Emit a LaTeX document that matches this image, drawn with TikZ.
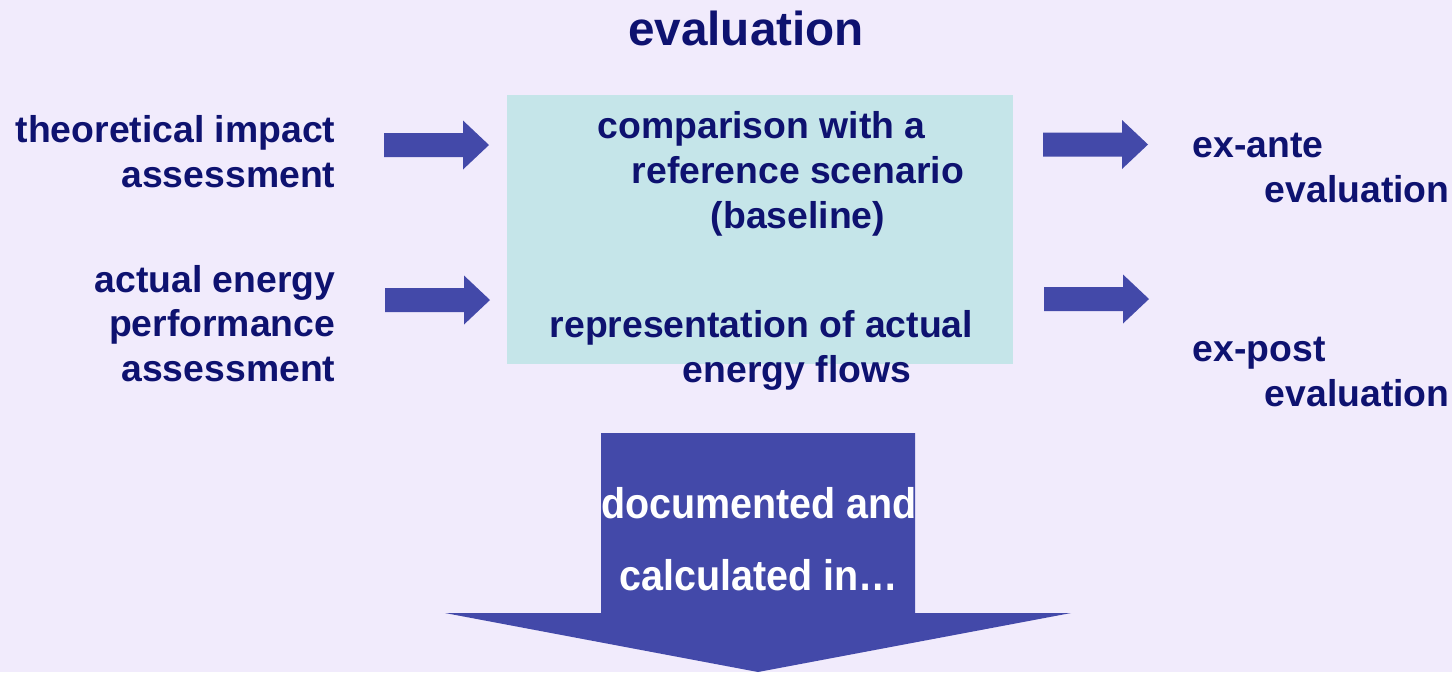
\documentclass[tikz,border=0pt]{standalone}
\usepackage{fontspec}
\setmainfont{Liberation Sans}
\newfontfamily\narrowsans[FakeStretch=0.92]{Liberation Sans}
\usepackage{tikz}

\definecolor{slidebg}{RGB}{241,235,252}
\definecolor{boxcyan}{RGB}{197,229,233}
\definecolor{arrowblue}{RGB}{67,73,169}
\definecolor{navytext}{RGB}{14,18,112}

\tikzset{
  flowarrow/.pic={\fill[arrowblue] (0,-12) -- (79,-12) -- (79,-24.5) -- (105,0) -- (79,24.5) -- (79,12) -- (0,12) -- cycle;}
}

\begin{document}
\begin{tikzpicture}[x=0.01cm,y=-0.01cm]
  \tikzstyle{bluetext}=[inner sep=0pt,text=navytext,font=\fontsize{10.62}{12.66}\selectfont\bfseries]
  \tikzstyle{titletext}=[inner sep=0pt,text=navytext,font=\fontsize{13.55}{16}\selectfont\bfseries]
  \tikzstyle{arrowtext}=[inner sep=0pt,text=white,font=\narrowsans\fontsize{12.2}{20.5}\selectfont\bfseries]

  \fill[slidebg] (0,0) rectangle (1452,672);
  \useasboundingbox (0,0) rectangle (1452,672);

  \node[titletext, anchor=north] (title) at (746,10.3) {evaluation};

  \node[fill=boxcyan, minimum width=5.06cm, minimum height=2.69cm, inner sep=0pt] (box) at (760,229.5) {};

  \node[bluetext, anchor=north east, align=right] (theo)   at (336,115)   {theoretical impact\\assessment};
  \node[bluetext, anchor=north east, align=right] (actual) at (336,264.5) {actual energy\\performance\\assessment};

  \node[bluetext, anchor=north west, align=left] (cmp)  at (597,111.2) {comparison with a\\\hspace*{0.34cm}reference scenario\\\hspace*{1.13cm}(baseline)};
  \node[bluetext, anchor=north west, align=left] (repr) at (549,310.2) {representation of actual\\\hspace*{1.33cm}energy flows};

  \node[bluetext, anchor=north west, align=left] (exante) at (1192,132.5) {ex-ante\\\hspace*{0.72cm}evaluation};
  \node[bluetext, anchor=north west, align=left] (expost) at (1192,336.5) {ex-post\\\hspace*{0.72cm}evaluation};

  % block arrows
  \coordinate (theoOut)   at (384,145);
  \coordinate (actualOut) at (385,300);
  \coordinate (anteIn)    at (1043,144.5);
  \coordinate (postIn)    at (1044,299);
  \pic at (theoOut)   {flowarrow};
  \pic at (actualOut) {flowarrow};
  \pic at (anteIn)    {flowarrow};
  \pic at (postIn)    {flowarrow};

  % big arrow down
  \fill[arrowblue] (601,433) -- (915,433) -- (915,613) -- (1071,613) -- (758,672) -- (445,613) -- (601,613) -- cycle;
  \node[arrowtext, anchor=north, align=center] (docu) at (759,487) {documented and\\calculated in…};
\end{tikzpicture}
\end{document}
